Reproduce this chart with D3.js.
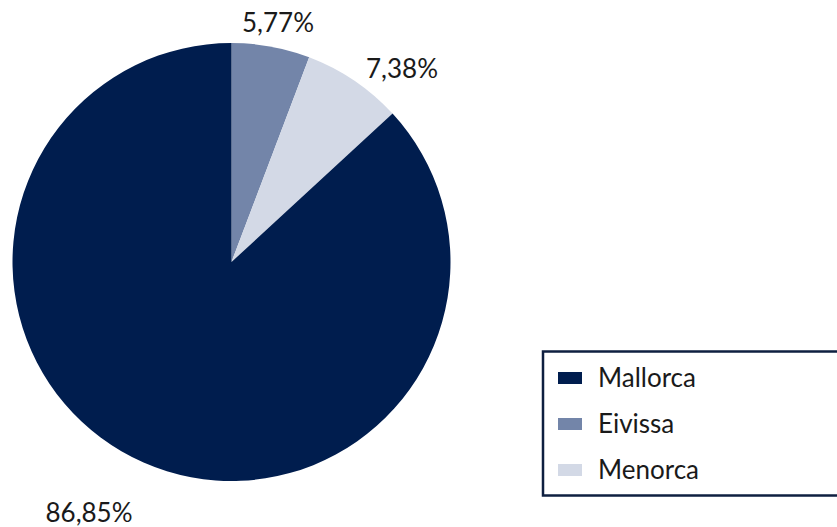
<!DOCTYPE html>
<html><head><meta charset="utf-8">
<script src="https://cdn.jsdelivr.net/npm/d3@7"></script>
<style>body{margin:0;background:#fff}svg{display:block}text{font-family:Lato,"Open Sans",sans-serif;fill:#1a1a1a}</style>
</head><body>
<svg id="c" width="837" height="527"></svg>
<script>
const categories = ["Eivissa", "Menorca", "Mallorca"];
const values = [5.77, 7.38, 86.85];
const labels = ["5,77%", "7,38%", "86,85%"];
const colors = ["#7385a9", "#d3d9e6", "#001d4e"];
const legendOrder = ["Mallorca", "Eivissa", "Menorca"];

const svg = d3.select("#c");
const cx = 231.5, cy = 262, r = 219;
const color = d3.scaleOrdinal().domain(categories).range(colors);
const pie = d3.pie().sort(null).value(d => d.v);
const data = categories.map((c, i) => ({c, v: values[i], l: labels[i]}));
const arcs = pie(data);
const arc = d3.arc().innerRadius(0).outerRadius(r);
const g = svg.append("g").attr("transform", `translate(${cx},${cy})`);
g.selectAll("path").data(arcs).join("path").attr("d", arc).attr("fill", d => color(d.data.c));

const labelPos = {
  "Eivissa": [278, 32],
  "Menorca": [402, 78],
  "Mallorca": [89, 522]
};
svg.selectAll("text.lbl").data(arcs).join("text").attr("class", "lbl")
  .attr("x", d => labelPos[d.data.c][0]).attr("y", d => labelPos[d.data.c][1])
  .attr("text-anchor", "middle").attr("font-size", 26).text(d => d.data.l);

// legend
const lg = svg.append("g");
lg.append("rect").attr("x", 543).attr("y", 351.5).attr("width", 310).attr("height", 144)
  .attr("fill", "#fff").attr("stroke", "#0e1f40").attr("stroke-width", 2.5);
const rows = lg.selectAll("g.row").data(legendOrder).join("g").attr("class", "row")
  .attr("transform", (d, i) => `translate(558,${378 + i * 46})`);
rows.append("rect").attr("x", 0).attr("y", -6).attr("width", 24).attr("height", 12).attr("fill", d => color(d));
rows.append("text").attr("x", 40).attr("y", 9).attr("font-size", 26).text(d => d);
</script>
</body></html>
